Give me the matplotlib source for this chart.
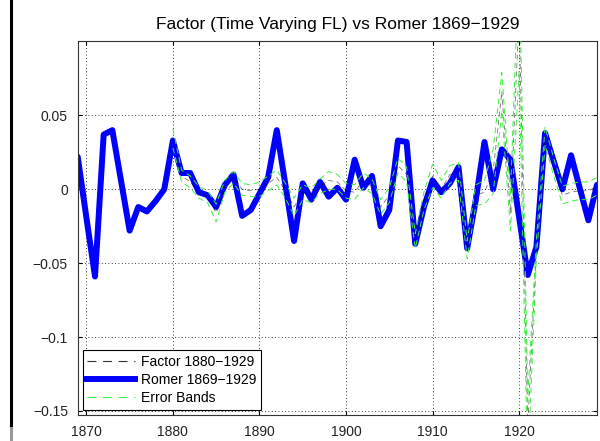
import numpy as np
import matplotlib
matplotlib.use("Agg")
import matplotlib.pyplot as plt
from matplotlib.lines import Line2D

plt.rcParams["font.family"] = ["Liberation Sans", "DejaVu Sans"]

# Romer series 1869-1929
romer_years = np.arange(1869, 1930)
romer = [0.022, -0.019, -0.059, 0.037, 0.040, 0.006, -0.028, -0.012, -0.015, -0.008,
         0.000, 0.033, 0.011, 0.011, -0.002, -0.004, -0.012, 0.003, 0.010, -0.018,
         -0.014, -0.003, 0.008, 0.040, 0.003, -0.035, 0.004, -0.007, 0.005, -0.005,
         0.001, -0.007, 0.020, 0.001, 0.009, -0.025, -0.014, 0.033, 0.032, -0.037,
         -0.012, 0.006, -0.002, 0.004, 0.015, -0.040, -0.007, 0.032, 0.000, 0.027,
         0.020, -0.019, -0.058, -0.039, 0.038, 0.019, 0.000, 0.023, 0.001, -0.021,
         0.003]

# factor (time varying FL) 1880-1929 with error bands
factor_years = np.arange(1880, 1930)
factor = [0.034, 0.009, 0.005, -0.002, -0.005, -0.016, 0.002, 0.008, 0.000, -0.001,
          0.000, 0.004, 0.008, -0.001, -0.012, -0.002, -0.004, 0.002, 0.006, 0.005,
          -0.001, -0.002, 0.006, 0.002, -0.012, -0.004, 0.016, 0.010, -0.035, -0.008,
          0.009, 0.000, 0.010, 0.012, -0.041, -0.004, -0.002, 0.012, 0.066, -0.016,
          0.120, -0.160, -0.040, 0.036, 0.015, -0.004, -0.002, -0.001, -0.001, 0.002]
band_hi = [0.041, 0.013, 0.009, 0.002, -0.001, -0.010, 0.006, 0.012, 0.004, 0.003,
           0.005, 0.009, 0.013, 0.004, -0.006, 0.003, 0.001, 0.007, 0.012, 0.010,
           0.004, 0.003, 0.011, 0.007, -0.007, 0.001, 0.021, 0.015, -0.030, -0.002,
           0.017, 0.006, 0.016, 0.018, -0.035, 0.003, 0.006, 0.027, 0.079, -0.004,
           0.160, -0.140, -0.034, 0.042, 0.021, 0.002, 0.004, 0.005, 0.005, 0.008]
band_lo = [0.028, 0.005, 0.001, -0.006, -0.009, -0.022, -0.002, 0.004, -0.004, -0.005,
           -0.005, -0.001, 0.003, -0.006, -0.018, -0.007, -0.009, -0.003, 0.000, 0.000,
           -0.006, -0.007, 0.001, -0.003, -0.017, -0.009, 0.011, 0.005, -0.040, -0.014,
           0.001, -0.006, 0.004, 0.006, -0.047, -0.011, -0.010, -0.003, 0.053, -0.028,
           0.080, -0.190, -0.046, 0.030, 0.009, -0.010, -0.008, -0.007, -0.007, -0.004]

xticks = [1870, 1880, 1890, 1900, 1910, 1920]
yticks = [-0.15, -0.1, -0.05, 0, 0.05]
ytick_labels = ["\u22120.15", "\u22120.1", "\u22120.05", "0", "0.05"]

GREEN = "#3cf03c"

fig = plt.figure(figsize=(6, 4.41), dpi=100)
ax = fig.add_axes([0.1295, 0.059, 0.8655, 0.847])

ax.plot(romer_years, romer, color="#0000ff", lw=4.3, solid_joinstyle="round",
        solid_capstyle="round", zorder=2)
ax.plot(factor_years, factor, color="black", lw=0.6, ls=(0, (6, 4)), alpha=0.55, zorder=3)
ax.plot(factor_years, band_hi, color=GREEN, lw=0.7, ls=(0, (6, 4)), zorder=4)
ax.plot(factor_years, band_lo, color=GREEN, lw=0.7, ls=(0, (6, 4)), zorder=4)

ax.set_xlim(1869, 1929)
ax.set_ylim(-0.1527, 0.1)
ax.set_xticks(xticks)
ax.set_yticks(yticks)
ax.set_yticklabels(ytick_labels)
ax.grid(True, color="black", ls=(0, (1, 3)), lw=0.6)
ax.tick_params(direction="in", length=3, top=True, right=True, labelsize=10,
               labelcolor="#222222", pad=7)
for s in ax.spines.values():
    s.set_linewidth(0.8)
    s.set_color("#333333")

ax.set_title("Factor (Time Varying FL) vs Romer 1869\u22121929", fontsize=12.5, pad=9)

handles = [
    Line2D([], [], color="#333333", lw=0.8, ls=(0, (8, 6))),
    Line2D([], [], color="#0000ff", lw=4.3),
    Line2D([], [], color=GREEN, lw=0.8, ls=(0, (8, 6))),
]
labels = ["Factor 1880\u22121929", "Romer 1869\u22121929", "Error Bands"]
leg = ax.legend(handles, labels, loc="lower left", fontsize=10,
                handlelength=3.4, handletextpad=0.45, borderaxespad=0.35,
                borderpad=0.35, labelspacing=0.3, fancybox=False, framealpha=1,
                edgecolor="black")
leg.get_frame().set_linewidth(0.8)

# black bar along the left edge of the page
fig.add_artist(Line2D([10.5 / 600, 10.5 / 600], [1, 1 - 428 / 441], color="black", lw=2.2,
                      transform=fig.transFigure))
fig.add_artist(Line2D([10.5 / 600, 10.5 / 600], [1 - 428 / 441, 0], color="#999999", lw=2.2,
                      transform=fig.transFigure))

fig.savefig("out.png", dpi=100)
